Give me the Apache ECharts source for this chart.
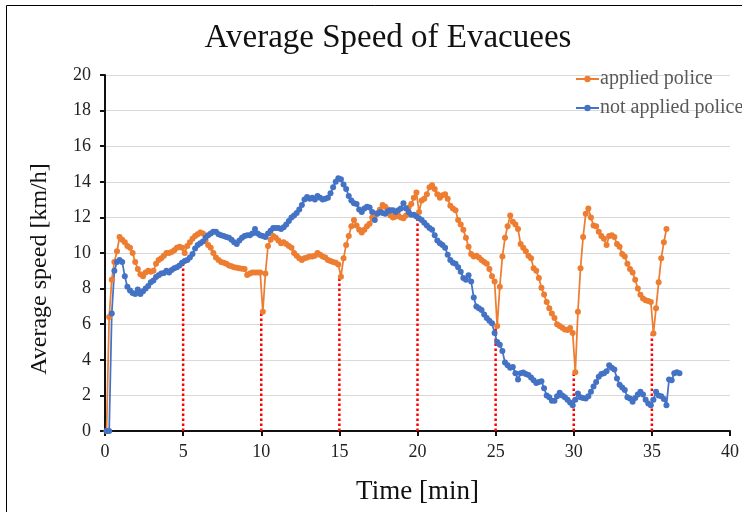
<!DOCTYPE html>
<html>
<head>
<meta charset="utf-8">
<script src="https://cdn.jsdelivr.net/npm/echarts@6/dist/echarts.min.js"></script>
<style>
    html, body { margin: 0; padding: 0; background: #fff; }
    #graph { width: 742px; height: 512px; }
</style>
</head>
<body>
<div id="graph"></div>
<script>
"use strict"

// samples every 10 s, first one 6 s after start (values in minutes)
const sampleStart = 0.1, sampleStep = 1 / 6;

// applied police, km/h
const appliedSpeed = [
    0, 6.4, 8.5, 9.5, 10.1, 10.9,
    10.75, 10.6, 10.4, 10.3, 10.0, 9.5,
    9.1, 8.8, 8.7, 8.9, 9.0, 8.95,
    9.0, 9.4, 9.6, 9.7, 9.85, 10.0,
    10.0, 10.05, 10.15, 10.3, 10.35, 10.3,
    10.0, 10.4, 10.6, 10.8, 10.95, 11.05,
    11.15, 11.1, 10.7, 10.45, 10.3, 10.0,
    9.75, 9.6, 9.5, 9.45, 9.4, 9.3,
    9.25, 9.2, 9.17, 9.15, 9.12, 9.1,
    8.76, 8.85, 8.9, 8.9, 8.9, 8.9,
    6.7, 8.85, 10.4, 10.75, 10.95, 10.85,
    10.7, 10.55, 10.6, 10.5, 10.4, 10.3,
    10.0, 9.85, 9.7, 9.6, 9.7, 9.75,
    9.8, 9.8, 9.85, 10.0, 9.9, 9.8,
    9.75, 9.6, 9.55, 9.5, 9.45, 9.35,
    8.67, 9.7, 10.45, 10.95, 11.5, 11.86,
    11.55, 11.3, 11.15, 11.3, 11.5, 11.65,
    12.0, 12.1, 12.25, 12.45, 12.7, 12.6,
    12.45, 12.1, 12.0, 12.05, 12.1, 12.0,
    11.95, 12.1, 12.55, 12.75, 13.1, 13.4,
    12.3, 12.95, 13.05, 13.3, 13.7, 13.8,
    13.6, 13.3, 13.1, 13.25, 13.3, 13.05,
    12.65, 12.5, 12.4, 11.85, 11.6, 11.3,
    10.85, 10.35, 9.95, 9.8, 9.85, 9.75,
    9.6, 9.5, 9.4, 9.1, 8.7, 8.4,
    5.9, 8.1, 9.8, 10.85, 11.5, 12.1,
    11.75, 11.6, 11.35, 10.5, 10.3, 10.1,
    9.85, 9.7, 9.15, 9.0, 8.6, 8.05,
    7.67, 7.25, 6.9, 6.6, 6.35, 6.0,
    5.9, 5.8, 5.7, 5.68, 5.78, 5.5,
    3.3, 6.7, 9.15, 10.9, 12.2, 12.5,
    12.0, 11.55, 11.5, 11.2, 10.95, 10.8,
    10.45, 10.95, 11.0, 10.9, 10.5, 10.35,
    9.95, 9.8, 9.4, 9.1, 8.9, 8.5,
    8.0, 7.65, 7.45, 7.35, 7.3, 7.25,
    5.48, 6.9, 8.35, 9.7, 10.6, 11.35
];

// not applied police, km/h
const notAppliedSpeed = [
    0, 0, 6.6, 9.0, 9.5, 9.6,
    9.5, 8.7, 8.1, 7.9, 7.75, 7.7,
    7.95, 7.7, 7.85, 8.0, 8.15, 8.35,
    8.45, 8.65, 8.75, 8.85, 8.88, 9.0,
    8.9, 9.05, 9.15, 9.2, 9.3, 9.45,
    9.55, 9.6, 9.75, 9.95, 10.25, 10.45,
    10.55, 10.65, 10.85, 11.0, 11.1, 11.2,
    11.2, 11.05, 11.0, 10.95, 10.9, 10.85,
    10.75, 10.6, 10.5, 10.7, 10.85, 10.95,
    11.0, 11.0, 11.1, 11.35, 11.1, 11.0,
    10.95, 10.9, 11.1, 11.25, 11.4, 11.4,
    11.4, 11.35, 11.45, 11.6, 11.8, 12.0,
    12.1, 12.25, 12.45, 12.7, 13.0, 13.15,
    13.05, 13.1, 13.0, 13.2, 13.1, 13.0,
    13.05, 13.1, 13.35, 13.7, 14.0, 14.2,
    14.15, 13.85, 13.6, 13.2, 12.95, 12.8,
    12.75, 12.45, 12.3, 12.5, 12.6, 12.55,
    12.3, 11.85, 12.2, 12.3, 12.25, 12.2,
    12.35, 12.4, 12.4, 12.3, 12.4, 12.5,
    12.8, 12.5, 12.3, 12.15, 12.15, 12.05,
    11.95, 11.85, 11.7, 11.55, 11.4, 11.3,
    11.0, 10.7, 10.55, 10.45, 10.3, 9.9,
    9.6, 9.45, 9.4, 9.2, 8.95, 8.6,
    8.5, 8.75, 8.4, 7.5, 7.0, 6.9,
    6.8, 6.55, 6.35, 6.2, 6.05, 5.5,
    5.0, 4.85, 4.5, 3.85, 3.7, 3.55,
    3.6, 3.25, 2.9, 3.25, 3.28, 3.2,
    3.15, 3.0, 2.85, 2.7, 2.75, 2.8,
    2.4, 2.0, 1.9, 1.7, 1.7, 1.95,
    2.15, 2.0, 1.9, 1.75, 1.6, 1.45,
    1.75, 2.1, 1.9, 1.85, 1.82, 1.95,
    2.2, 2.5, 2.75, 3.05, 3.2, 3.25,
    3.35, 3.7, 3.55, 3.45, 2.95, 2.6,
    2.45, 2.3, 1.9, 1.82, 1.65, 1.85,
    2.05, 2.2, 2.05, 1.75, 1.55, 1.45,
    1.75, 2.2, 2.0, 1.95, 1.8, 1.45,
    2.9, 2.85, 3.25, 3.3, 3.25
];

// red dotted markers: police release times and the speed they reach up to
const policeTimes = [5, 10, 15, 20, 25, 30, 35];
const policeTops = [9.5, 6.7, 8.67, 12.0, 5.9, 3.3, 5.48];

const serif = "'Liberation Serif', 'Times New Roman', serif";

const toPoints = arr => arr.map((v, i) => [sampleStart + i * sampleStep, v]);

const speedLine = (name, arr, color) => ({
    name: name,
    type: "line",
    data: toPoints(arr),
    symbol: "circle",
    symbolSize: 6,
    showSymbol: true,
    color: color,
    lineStyle: { width: 1.75, color: color },
    itemStyle: { color: color },
    animation: false,
    z: 3
});

const policeLines = policeTimes.map((t, i) => ({
    type: "line",
    data: [[t, 0], [t, policeTops[i]]],
    symbol: "none",
    silent: true,
    lineStyle: { color: "#ff0000", width: 2.5, type: [2.5, 2.5] },
    animation: false,
    z: 2
}));

const myChart = echarts.init(document.getElementById("graph"), null, { renderer: "canvas" });

const option = {
    animation: false,
    title: {
        text: "Average Speed of Evacuees",
        left: 383,
        textAlign: "center",
        top: 17,
        textStyle: { fontFamily: serif, fontSize: 33, fontWeight: "normal", color: "#111" }
    },
    legend: {
        data: ["applied police", "not applied police"],
        orient: "vertical",
        left: 575,
        top: 69,
        padding: 0,
        itemWidth: 23,
        itemHeight: 8,
        itemGap: 9,
        textStyle: { fontFamily: serif, fontSize: 20, color: "#595959", padding: [0, 0, 0, -4] }
    },
    graphic: [{
        type: "rect",
        shape: { x: 6.5, y: 5.5, width: 760, height: 530 },
        style: { fill: "none", stroke: "#000", lineWidth: 1 },
        silent: true
    }, {
        type: "text",
        x: 40,
        y: 269,
        rotation: Math.PI / 2,
        style: {
            text: "Average speed [km/h]",
            font: "24px " + serif,
            fill: "#111",
            align: "center",
            verticalAlign: "middle"
        },
        silent: true
    }],
    grid: { left: 105, right: 11, top: 75, bottom: 81 },
    xAxis: {
        type: "value",
        min: 0,
        max: 40,
        interval: 5,
        name: "Time [min]",
        nameLocation: "middle",
        nameGap: 47,
        nameTextStyle: { fontFamily: serif, fontSize: 27, color: "#111" },
        axisLine: { lineStyle: { color: "#111", width: 2 } },
        axisTick: { show: true, length: 5, lineStyle: { color: "#111", width: 2 } },
        axisLabel: { fontFamily: serif, fontSize: 18, color: "#222", margin: 12 },
        splitLine: { show: false }
    },
    yAxis: {
        type: "value",
        min: 0,
        max: 20,
        interval: 2,
        axisLine: { show: true, lineStyle: { color: "#111", width: 2 } },
        axisTick: { show: true, length: 5, lineStyle: { color: "#111", width: 2 } },
        axisLabel: { fontFamily: serif, fontSize: 18, color: "#222", margin: 14 },
        splitLine: { lineStyle: { color: "#d9d9d9", width: 1 } }
    },
    series: [
        speedLine("applied police", appliedSpeed, "#ed7d31"),
        speedLine("not applied police", notAppliedSpeed, "#4472c4")
    ].concat(policeLines)
};
myChart.setOption(option);
</script>
</body>
</html>
